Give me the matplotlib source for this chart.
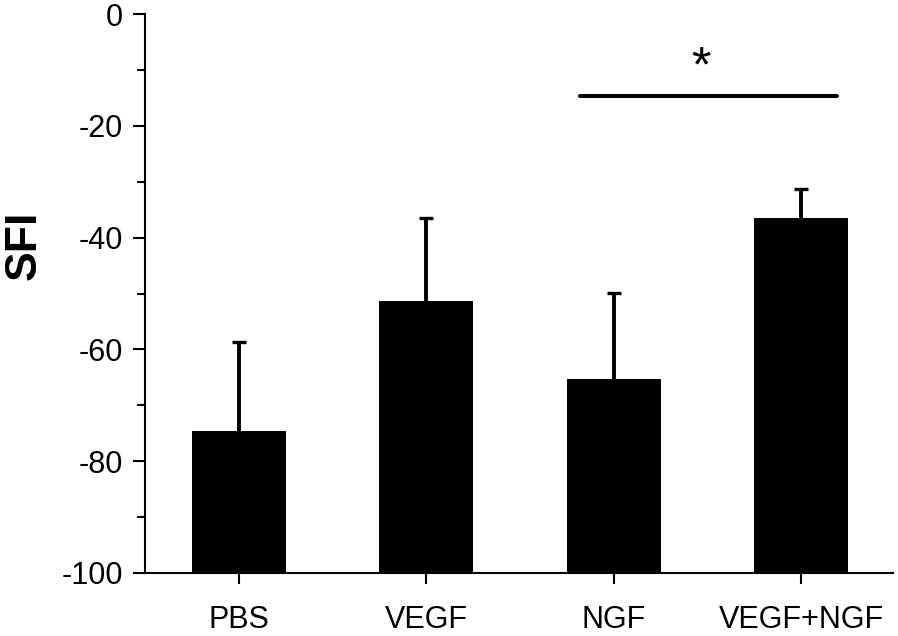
import numpy as np
import matplotlib.pyplot as plt
from matplotlib.ticker import MultipleLocator

plt.rcParams['font.family'] = ['Liberation Sans', 'DejaVu Sans']
plt.rcParams['axes.unicode_minus'] = False

groups = ['PBS', 'VEGF', 'NGF', 'VEGF+NGF']
sfi = [-74.6, -51.3, -65.3, -36.5]
sfi_err = [15.9, 14.8, 15.4, 5.2]
sig_pair = (2.82, 4.19)   # span of the significance bar
sig_level = -14.6
sig_mark = '*'

x = np.arange(1, len(groups) + 1)
base = -100

fig = plt.figure(figsize=(8.98, 6.36), dpi=100)
ax = fig.add_axes([145 / 898, 63 / 636, 748 / 898, 559 / 636])

heights = [v - base for v in sfi]
ax.bar(x, heights, bottom=base, width=0.5, color='black', zorder=2)
eb = ax.errorbar(x, sfi, yerr=[np.zeros(len(sfi)), sfi_err], fmt='none',
                 ecolor='black', elinewidth=2.8, capsize=5.2, capthick=2.4,
                 zorder=1)
eb[1][0].set_visible(False)   # only the upper cap

# significance bar
ax.plot(sig_pair, [sig_level, sig_level], color='black', lw=2.9,
        solid_capstyle='round')
ax.text(np.mean(sig_pair) - 0.04, sig_level + 0.8, sig_mark, ha='center',
        va='bottom', fontsize=36)

ax.set_xlim(0.5, 4.49)
ax.set_ylim(-100, 0)
ax.set_xticks(x)
ax.set_xticklabels(groups)
ax.yaxis.set_major_locator(MultipleLocator(20))
ax.yaxis.set_minor_locator(MultipleLocator(10))

for side in ['top', 'right']:
    ax.spines[side].set_visible(False)
for side in ['left', 'bottom']:
    ax.spines[side].set_linewidth(1.5)

ax.tick_params(axis='y', which='major', direction='out', length=8.6, width=1.5,
               labelsize=22, pad=7)
ax.tick_params(axis='y', which='minor', direction='out', length=5.8, width=1.5)
ax.tick_params(axis='x', which='major', direction='out', length=8, width=1.5,
               labelsize=22, pad=15)

fig.text(36 / 898, 1 - 245 / 636, 'SFI', rotation=90, rotation_mode='anchor',
         ha='center', va='baseline', fontsize=32, fontweight='bold')

fig.savefig('out.png', dpi=100)
